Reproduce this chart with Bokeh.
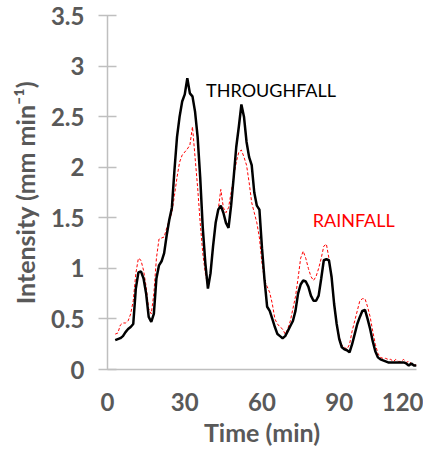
from bokeh.plotting import figure
from bokeh.models import Label, FixedTicker
from bokeh.embed import file_html
from bokeh.resources import INLINE

# time in minutes, 1-minute steps
time_min = list(range(3, 121))

throughfall = [
    0.29, 0.30, 0.31, 0.33, 0.37, 0.40, 0.42, 0.45, 0.80, 0.96,
    0.97, 0.90, 0.75, 0.52, 0.47, 0.55, 0.90, 1.03, 1.07, 1.15,
    1.33, 1.48, 1.60, 1.97, 2.30, 2.50, 2.65, 2.72, 2.88, 2.73,
    2.70, 2.55, 2.30, 1.90, 1.40, 1.05, 0.80, 0.95, 1.22, 1.45,
    1.58, 1.62, 1.55, 1.45, 1.40, 1.62, 1.90, 2.20, 2.40, 2.62,
    2.50, 2.25, 2.10, 2.02, 1.75, 1.62, 1.58, 1.20, 0.88, 0.62,
    0.58, 0.50, 0.42, 0.35, 0.33, 0.31, 0.33, 0.38, 0.43, 0.48,
    0.58, 0.75, 0.84, 0.88, 0.87, 0.82, 0.73, 0.68, 0.68, 0.73,
    0.90, 1.08, 1.09, 1.08, 0.92, 0.65, 0.45, 0.30, 0.22, 0.20,
    0.19, 0.17, 0.25, 0.35, 0.45, 0.52, 0.58, 0.59, 0.50, 0.40,
    0.28, 0.18, 0.12, 0.10, 0.09, 0.08, 0.07, 0.07, 0.07, 0.07,
    0.07, 0.07, 0.07, 0.06, 0.04, 0.06, 0.04, 0.04,
]

rainfall = [
    0.35, 0.36, 0.44, 0.46, 0.46, 0.48, 0.55, 0.68, 0.95, 1.10,
    1.08, 0.98, 0.82, 0.60, 0.55, 0.75, 1.10, 1.29, 1.30, 1.31,
    1.40, 1.48, 1.55, 1.72, 1.90, 2.05, 2.12, 2.15, 2.18, 2.22,
    2.40, 2.10, 1.80, 1.45, 1.15, 0.95, 0.82, 0.95, 1.20, 1.45,
    1.58, 1.78, 1.60, 1.55, 1.60, 1.75, 1.90, 2.05, 2.15, 2.17,
    2.10, 2.02, 1.85, 1.65, 1.55, 1.45, 1.30, 1.05, 0.88, 0.82,
    0.76, 0.65, 0.50, 0.45, 0.42, 0.40, 0.35, 0.40, 0.48, 0.60,
    0.72, 0.90, 1.10, 1.17, 1.10, 1.00, 0.92, 0.88, 0.92, 1.00,
    1.10, 1.22, 1.24, 1.10, 0.90, 0.65, 0.46, 0.32, 0.24, 0.22,
    0.20, 0.25, 0.38, 0.48, 0.58, 0.68, 0.70, 0.70, 0.62, 0.52,
    0.38, 0.25, 0.16, 0.12, 0.11, 0.11, 0.10, 0.10, 0.08, 0.10,
    0.08, 0.08, 0.10, 0.07, 0.08, 0.06, 0.05, 0.04,
]

x_ticks = [0, 30, 60, 90, 120]
y_ticks = [0, 0.5, 1, 1.5, 2, 2.5, 3, 3.5]

GRAY = "#595959"
AXIS = "#BFBFBF"
FONT = "Lato"

p = figure(width=423, height=455, x_range=(0, 120), y_range=(0, 3.5),
           output_backend="svg", toolbar_location=None,
           min_border_left=107, min_border_right=7,
           min_border_top=15, min_border_bottom=86)

p.line(time_min, rainfall, line_color="red", line_width=1, line_dash="3 2")
p.line(time_min, throughfall, line_color="black", line_width=2.5)

p.add_layout(Label(x=38.3, y=2.76, text="THROUGHFALL", text_color="black",
                   text_font=FONT, text_font_size="18px", text_baseline="middle"))
p.add_layout(Label(x=79.7, y=1.48, text="RAINFALL", text_color="red",
                   text_font=FONT, text_font_size="18px", text_baseline="middle"))

p.xgrid.visible = False
p.ygrid.visible = False
p.outline_line_color = None

p.xaxis.ticker = FixedTicker(ticks=x_ticks)
p.yaxis.ticker = FixedTicker(ticks=y_ticks)
p.yaxis.major_label_overrides = {v: f"{v:g}" for v in y_ticks}

for ax in (p.xaxis, p.yaxis):
    ax.axis_line_color = AXIS
    ax.axis_line_width = 1.5
    ax.major_tick_line_color = AXIS
    ax.major_tick_line_width = 1.5
    ax.minor_tick_line_color = None
    ax.major_label_text_font = FONT
    ax.major_label_text_font_style = "bold"
    ax.major_label_text_font_size = "24px"
    ax.major_label_text_color = GRAY
    ax.axis_label_text_font = FONT
    ax.axis_label_text_font_style = "bold"
    ax.axis_label_text_font_size = "25px"
    ax.axis_label_text_color = GRAY

p.xaxis.major_tick_out = 0
p.xaxis.major_tick_in = 0
p.xaxis.major_label_standoff = 23
p.xaxis.axis_label = "Time (min)"
p.xaxis.axis_label_standoff = 3

p.yaxis.major_tick_out = 9
p.yaxis.major_tick_in = 9
p.yaxis.major_label_standoff = 14
p.yaxis.axis_label = "Intensity (mm min⁻¹)"
p.yaxis.axis_label_standoff = 8

open("out.html", "w").write(file_html(p, INLINE))
